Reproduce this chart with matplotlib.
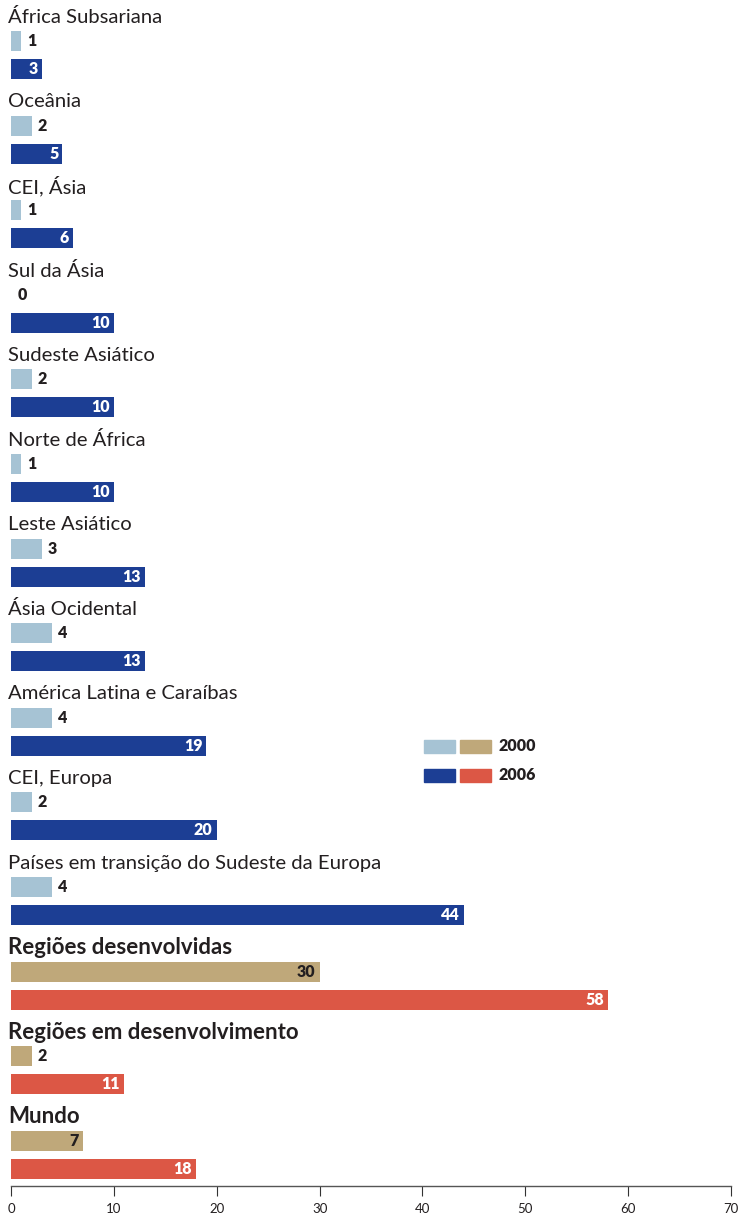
import matplotlib
matplotlib.use("Agg")
import matplotlib.pyplot as plt
from matplotlib.patches import Rectangle

regions = [
    "África Subsariana",
    "Oceânia",
    "CEI, Ásia",
    "Sul da Ásia",
    "Sudeste Asiático",
    "Norte de África",
    "Leste Asiático",
    "Ásia Ocidental",
    "América Latina e Caraíbas",
    "CEI, Europa",
    "Países em transição do Sudeste da Europa",
    "Regiões desenvolvidas",
    "Regiões em desenvolvimento",
    "Mundo",
]
values_2000 = [1, 2, 1, 0, 2, 1, 3, 4, 4, 2, 4, 30, 2, 7]
values_2006 = [3, 5, 6, 10, 10, 10, 13, 13, 19, 20, 44, 58, 11, 18]
summary_rows = ["Regiões desenvolvidas", "Regiões em desenvolvimento", "Mundo"]
years = ["2000", "2006"]

LIGHT_BLUE = "#a6c3d4"
DARK_BLUE = "#1c3e94"
BEIGE = "#bfa87a"
RED = "#dc5745"
TEXT = "#231f20"

plt.rcParams["font.family"] = ["Lato", "DejaVu Sans"]

fig = plt.figure(figsize=(7.45, 12.16), dpi=100)
# axis: x=0 at px 11, x=70 at px 731; bottom spine at px 1186
ax = fig.add_axes([11 / 745, 30 / 1216, 720 / 745, 1186 / 1216])

spacing = 84.6  # px between groups
ax.set_xlim(0, 70)
ax.set_ylim((1186 - 69) / spacing, -69 / spacing)

bar_h = 20 / spacing
off_2000 = 28 / spacing
off_label = 52 / spacing
px = 70 / 720  # one pixel in x data units

for i, name in enumerate(regions):
    summary = name in summary_rows
    c_old = BEIGE if summary else LIGHT_BLUE
    c_new = RED if summary else DARK_BLUE
    y_new = i
    y_old = i - off_2000

    ax.barh(y_old, values_2000[i], height=bar_h, color=c_old, left=0)
    ax.barh(y_new, values_2006[i], height=bar_h, color=c_new, left=0)

    ax.text(-3 * px, i - off_label, name, ha="left", va="center",
            fontsize=16 if summary else 14.6, color=TEXT,
            fontweight="bold" if summary else "normal", clip_on=False)

    v = values_2000[i]
    if v >= 5:
        ax.text(v - 4 * px, y_old, str(v), ha="right", va="center",
                fontsize=11.5, fontweight="heavy", color=TEXT)
    else:
        ax.text(v + (7 * px if v == 0 else 6 * px), y_old, str(v),
                ha="left", va="center", fontsize=11.5, fontweight="heavy", color=TEXT)

    v = values_2006[i]
    ax.text(v - 4 * px, y_new, str(v), ha="right", va="center",
            fontsize=11.5, fontweight="heavy", color="white")

# legend
leg_colors = [(LIGHT_BLUE, BEIGE), (DARK_BLUE, RED)]
for j, yr in enumerate(years):
    y = (746 + 29 * j - 69) / spacing
    for k, col in enumerate(leg_colors[j]):
        x0 = (424 - 11 + 36 * k) * px
        ax.add_patch(Rectangle((x0, y - 6.5 / spacing), 31 * px, 13 / spacing,
                               color=col, clip_on=False))
    ax.text((499 - 11) * px, y, yr, ha="left", va="center",
            fontsize=11.5, fontweight="heavy", color=TEXT)

for s in ["top", "right", "left"]:
    ax.spines[s].set_visible(False)
ax.spines["bottom"].set_color("#555555")
ax.spines["bottom"].set_linewidth(1.0)
ax.set_yticks([])
ax.set_xticks(range(0, 71, 10))
ax.tick_params(axis="x", direction="out", length=7, width=0.8, color="#333333",
               labelsize=9.5, labelcolor=TEXT, pad=5)

fig.savefig("out.png", dpi=100)
